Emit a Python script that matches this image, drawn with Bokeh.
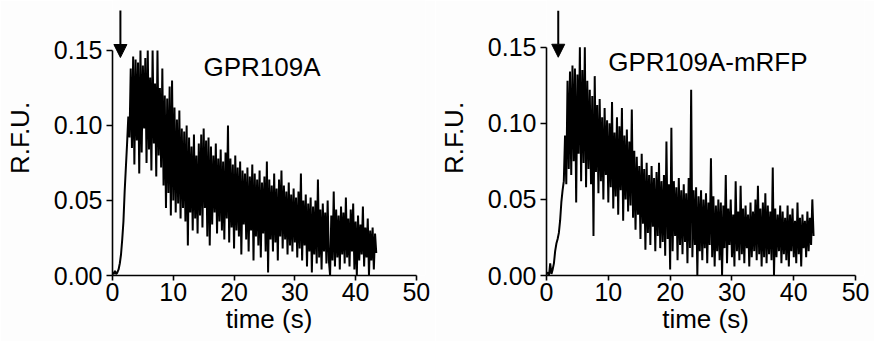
import numpy as np
from bokeh.plotting import figure
from bokeh.layouts import row
from bokeh.models import Range1d, FixedTicker, PrintfTickFormatter, Label, Arrow, NormalHead
from bokeh.embed import file_html
from bokeh.resources import INLINE

# ---------------- data ----------------
dt = 0.2  # sampling interval, s

gpr109a = [
    0.002, 0.001, 0.003, 0.001, 0.002, 0.004, 0.008, 0.014, 0.024, 0.036,
    0.056, 0.072, 0.088, 0.106, 0.092, 0.138, 0.085, 0.146, 0.074, 0.144,
    0.090, 0.142, 0.068, 0.150, 0.082, 0.140, 0.098, 0.145, 0.075, 0.150,
    0.084, 0.132, 0.070, 0.150, 0.088, 0.128, 0.066, 0.150, 0.080, 0.125,
    0.072, 0.138, 0.060, 0.120, 0.045, 0.118, 0.055, 0.126, 0.040, 0.130,
    0.050, 0.112, 0.042, 0.104, 0.048, 0.110, 0.038, 0.098, 0.045, 0.096,
    0.036, 0.100, 0.020, 0.092, 0.042, 0.086, 0.030, 0.094, 0.038, 0.080,
    0.028, 0.088, 0.040, 0.094, 0.032, 0.098, 0.045, 0.090, 0.026, 0.092,
    0.020, 0.086, 0.034, 0.080, 0.042, 0.088, 0.028, 0.078, 0.036, 0.084,
    0.030, 0.076, 0.024, 0.082, 0.038, 0.100, 0.022, 0.078, 0.032, 0.074,
    0.018, 0.080, 0.030, 0.072, 0.026, 0.076, 0.014, 0.070, 0.034, 0.068,
    0.024, 0.072, 0.016, 0.066, 0.030, 0.074, 0.010, 0.068, 0.026, 0.064,
    0.020, 0.070, 0.012, 0.062, 0.028, 0.066, 0.016, 0.076, 0.002, 0.064,
    0.024, 0.060, 0.016, 0.068, 0.022, 0.058, 0.010, 0.064, 0.026, 0.070,
    0.018, 0.060, 0.024, 0.056, 0.014, 0.062, 0.020, 0.054, 0.016, 0.058,
    0.022, 0.052, 0.012, 0.056, 0.018, 0.068, 0.010, 0.050, 0.020, 0.054,
    0.006, 0.048, 0.016, 0.052, 0.002, 0.046, 0.014, 0.050, 0.008, 0.064,
    0.012, 0.044, 0.004, 0.048, 0.016, 0.042, 0.008, 0.050, 0.010, 0.000,
    0.040, 0.010, 0.056, 0.006, 0.044, 0.012, 0.040, 0.004, 0.046, 0.014,
    0.042, 0.008, 0.052, 0.012, 0.038, 0.006, 0.044, 0.016, 0.048, 0.004,
    0.036, 0.000, 0.040, 0.010, 0.034, 0.014, 0.046, 0.006, 0.032, 0.012,
    0.038, 0.000, 0.030, 0.010, 0.032, 0.004, 0.028, 0.015,
]

gpr109a_mrfp = [
    0.001, 0.002, 0.000, 0.008, 0.001, 0.004, 0.008, 0.016, 0.021, 0.024,
    0.028, 0.036, 0.048, 0.056, 0.062, 0.092, 0.060, 0.128, 0.070, 0.134,
    0.066, 0.138, 0.075, 0.136, 0.048, 0.132, 0.080, 0.150, 0.062, 0.135,
    0.074, 0.150, 0.058, 0.128, 0.070, 0.122, 0.060, 0.118, 0.026, 0.131,
    0.068, 0.112, 0.054, 0.116, 0.062, 0.104, 0.050, 0.110, 0.066, 0.102,
    0.048, 0.100, 0.058, 0.114, 0.044, 0.094, 0.052, 0.104, 0.040, 0.098,
    0.056, 0.110, 0.036, 0.092, 0.050, 0.096, 0.042, 0.088, 0.046, 0.109,
    0.038, 0.082, 0.030, 0.078, 0.040, 0.072, 0.024, 0.080, 0.034, 0.070,
    0.017, 0.074, 0.028, 0.066, 0.020, 0.072, 0.032, 0.064, 0.016, 0.068,
    0.026, 0.074, 0.018, 0.062, 0.022, 0.066, 0.013, 0.088, 0.024, 0.060,
    0.004, 0.097, 0.016, 0.062, 0.026, 0.058, 0.010, 0.064, 0.020, 0.056,
    0.014, 0.060, 0.022, 0.054, 0.008, 0.064, 0.018, 0.122, 0.012, 0.056,
    0.020, 0.058, 0.000, 0.052, 0.016, 0.056, 0.010, 0.050, 0.018, 0.054,
    0.008, 0.048, 0.020, 0.077, 0.012, 0.052, 0.006, 0.046, 0.016, 0.050,
    0.010, 0.048, 0.000, 0.046, 0.018, 0.066, 0.008, 0.044, 0.020, 0.050,
    0.012, 0.040, 0.006, 0.062, 0.016, 0.042, 0.010, 0.059, 0.014, 0.044,
    0.008, 0.046, 0.018, 0.040, 0.006, 0.048, 0.012, 0.042, 0.016, 0.050,
    0.010, 0.059, 0.014, 0.044, 0.006, 0.048, 0.012, 0.054, 0.008, 0.046,
    0.014, 0.042, 0.010, 0.071, 0.000, 0.044, 0.012, 0.040, 0.016, 0.046,
    0.008, 0.042, 0.014, 0.038, 0.010, 0.046, 0.006, 0.040, 0.016, 0.044,
    0.012, 0.036, 0.008, 0.048, 0.014, 0.038, 0.006, 0.040, 0.018, 0.036,
    0.012, 0.042, 0.016, 0.038, 0.020, 0.050, 0.026,
]

stimulus_times = [1.3, 1.9]          # arrow positions (s)
panel_titles = ["GPR109A", "GPR109A-mRFP"]
x_ticks = [0, 10, 20, 30, 40, 50]
y_ticks = [0.0, 0.05, 0.10, 0.15]
x_label = "time (s)"
y_label = "R.F.U."

FONT = "Liberation Sans"
BG = "#fdfdfd"
H = 341


def make_panel(values, title, stim, width, border_left, x_end, y_end,
               title_x, title_y, arrow_top, arrow_tip):
    t = np.round(np.arange(len(values)) * dt, 3)
    p = figure(width=width, height=H, output_backend="svg", toolbar_location=None,
               x_range=Range1d(0, x_end), y_range=Range1d(0, y_end),
               min_border_left=border_left, min_border_right=10,
               min_border_top=0, min_border_bottom=H - 275,
               background_fill_color=BG, border_fill_color=BG)
    p.outline_line_color = None
    p.grid.visible = False

    p.line(t, values, line_color="black", line_width=2)

    for ax in (p.xaxis, p.yaxis):
        ax.axis_line_width = 1.6
        ax.axis_line_color = "black"
        ax.major_tick_line_width = 1.6
        ax.major_tick_line_color = "black"
        ax.major_tick_in = 0
        ax.minor_tick_line_color = None
        ax.major_label_text_font = FONT
        ax.major_label_text_font_size = "25px"
        ax.major_label_text_color = "black"
        ax.axis_label_text_font = FONT
        ax.axis_label_text_font_size = "26px"
        ax.axis_label_text_font_style = "normal"
        ax.axis_label_text_color = "black"
    p.xaxis.axis_label = x_label
    p.yaxis.axis_label = y_label
    p.xaxis.ticker = FixedTicker(ticks=x_ticks)
    p.yaxis.ticker = FixedTicker(ticks=y_ticks)
    p.yaxis.formatter = PrintfTickFormatter(format="%.2f")
    p.xaxis.bounds = (x_ticks[0], x_ticks[-1])
    p.yaxis.bounds = (y_ticks[0], y_ticks[-1])
    p.xaxis.major_tick_out = 5
    p.yaxis.major_tick_out = 6
    p.xaxis.major_label_standoff = 2
    p.yaxis.major_label_standoff = 4
    p.xaxis.axis_label_standoff = 0
    p.yaxis.axis_label_standoff = 16

    p.add_layout(Label(x=title_x, y=title_y, text=title, text_font=FONT,
                       text_font_size="26px", text_align="center",
                       text_baseline="alphabetic", text_color="black"))
    p.add_layout(Arrow(end=NormalHead(size=13, fill_color="black", line_color="black"),
                       x_start=stim, y_start=arrow_top, x_end=stim, y_end=arrow_tip,
                       line_width=2, line_color="black"))
    return p


p1 = make_panel(gpr109a, panel_titles[0], stimulus_times[0], width=435, border_left=112,
                x_end=51.5, y_end=0.1833, title_x=24.6, title_y=0.139,
                arrow_top=0.1767, arrow_tip=0.1453)
p2 = make_panel(gpr109a_mrfp, panel_titles[1], stimulus_times[1], width=439, border_left=108,
                x_end=51.44, y_end=0.1807, title_x=26.1, title_y=0.140,
                arrow_top=0.174, arrow_tip=0.1434)

layout = row(p1, p2)
open("out.html", "w").write(file_html(layout, INLINE))
